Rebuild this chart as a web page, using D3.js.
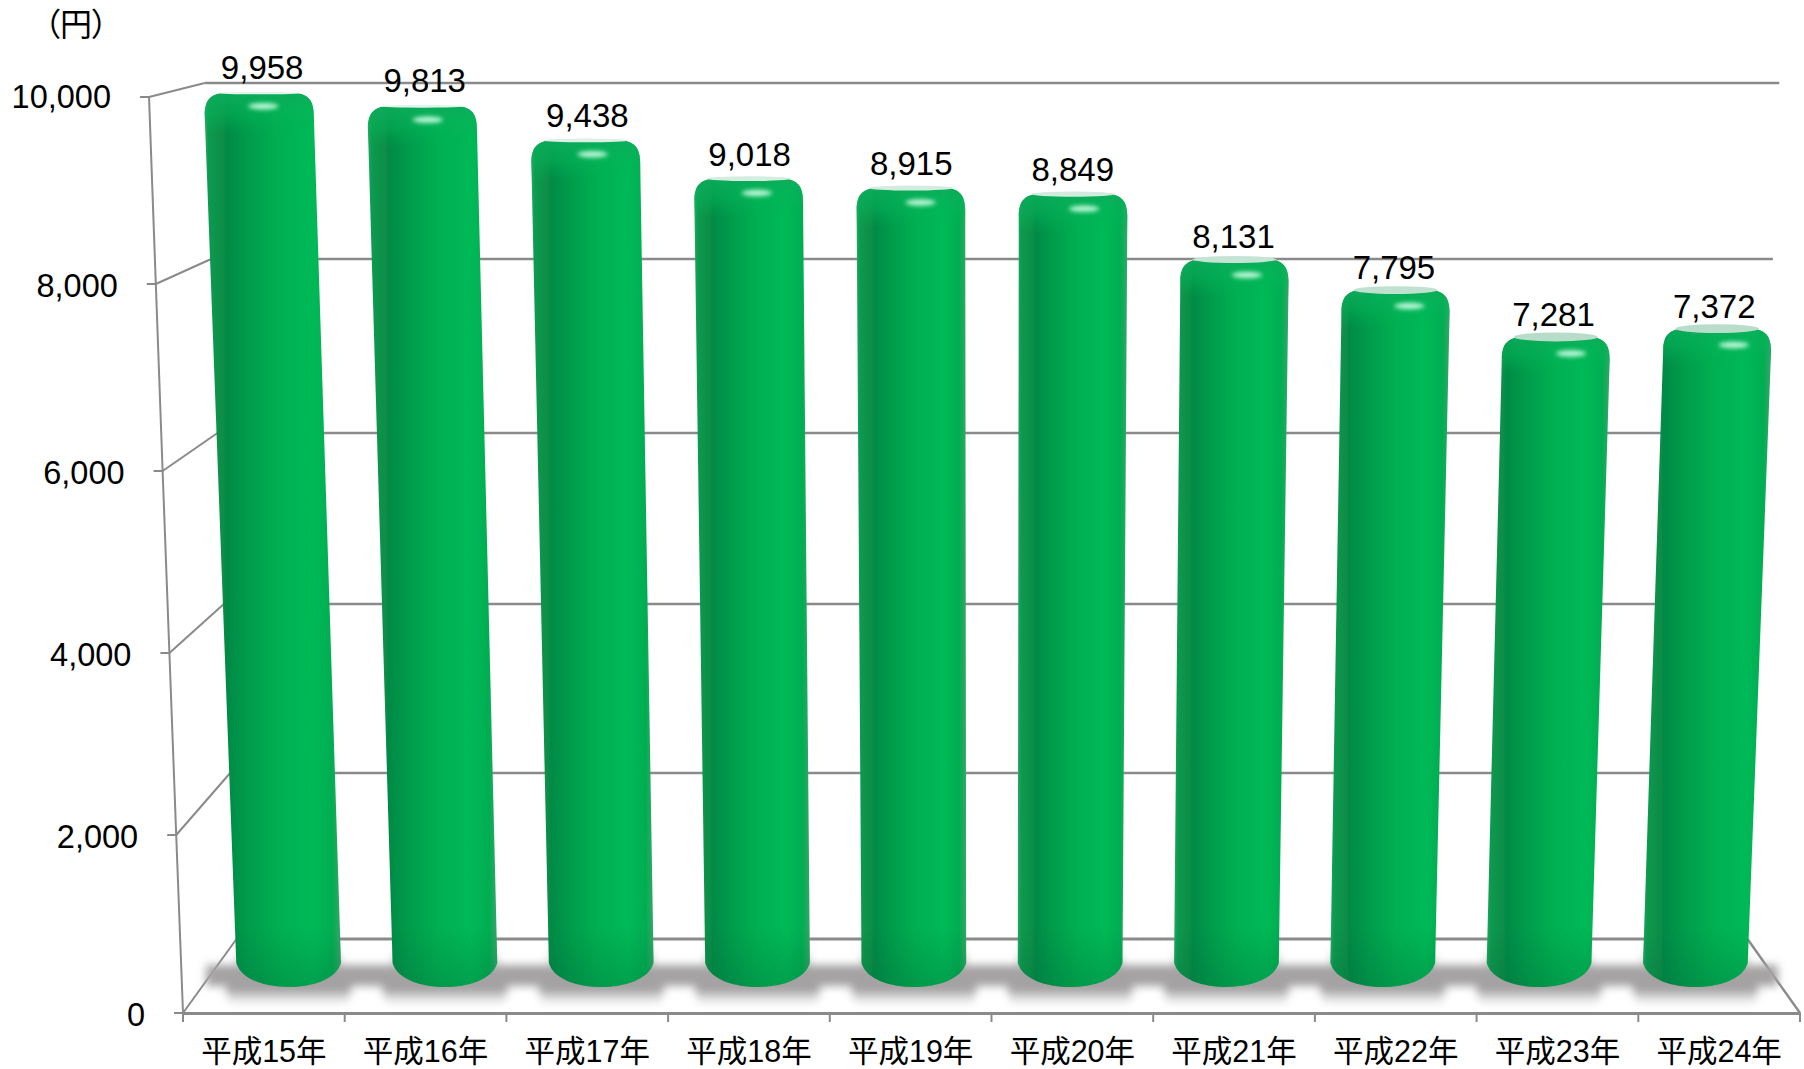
<!DOCTYPE html>
<html lang="ja">
<head>
<meta charset="utf-8">
<style>
  html, body { margin: 0; background: #fff; }
  text { font-family: "Liberation Sans", "Noto Sans CJK JP", sans-serif; fill: #000; }
</style>
</head>
<body>
<div id="chart"></div>
<script src="https://cdn.jsdelivr.net/npm/d3@7"></script>
<script>
const categories = ["平成15年", "平成16年", "平成17年", "平成18年", "平成19年", "平成20年", "平成21年", "平成22年", "平成23年", "平成24年"];
const values = [9958, 9813, 9438, 9018, 8915, 8849, 8131, 7795, 7281, 7372];
const yTicks = [0, 2000, 4000, 6000, 8000, 10000];
const unit = "（円）";

const width = 1804, height = 1069;
const grid = "#8a8a8a";

const svg = d3.select("#chart").append("svg")
  .attr("width", width)
  .attr("height", height)
  .style("display", "block");

// perspective: everything spreads out from the middle as the value goes up
const midX = 992;
const spread = d3.scaleLinear().domain([0, 10000]).range([1, 1.042]);
const persp = (x, v) => midX + (x - midX) * spread(v);

// the chart is a 3d one, so front edge, back wall and bars each get their own y scale
const yFront = d3.scaleLinear().domain(yTicks).range([1013, 835, 653, 471, 284, 97]);
const yBack = d3.scaleLinear().domain(yTicks).range([939, 773, 604, 433, 259, 83]);
const yBar = d3.scaleLinear().domain([0, 10000]).range([987, 88]);

const xFront = d3.scaleBand().domain(categories).range([183, 1800]);
const xBar = d3.scaleBand().domain(categories).range([210.5, 1773.5]).paddingInner(0.33).paddingOuter(0.165);
const xBackLeft = 236.5, xBackRight = 1747.5;

const capHeight = d3.scaleLinear().domain([7281, 9958]).range([9, 2.5]);
const capColor = d3.scaleLinear().domain([7281, 9958]).range(["#b7dcc9", "#e6f4ee"]);
const labelGap = d3.scaleLinear().domain([7281, 9958]).range([18, 25]);

const defs = svg.append("defs");

const body = defs.append("linearGradient").attr("id", "barBody");
[[0, "#2aa862"], [0.03, "#0c9a50"], [0.16, "#068a45"], [0.32, "#039c4c"], [0.55, "#00b051"],
 [0.8, "#00b956"], [0.94, "#03ad51"], [1, "#35a76c"]].forEach(s =>
  body.append("stop").attr("offset", s[0]).attr("stop-color", s[1]));

const topShade = defs.append("linearGradient").attr("id", "topShade").attr("x2", 0).attr("y2", 1);
topShade.append("stop").attr("offset", 0).attr("stop-color", "#0cab5a").attr("stop-opacity", 0.95);
topShade.append("stop").attr("offset", 0.55).attr("stop-color", "#05b45a").attr("stop-opacity", 0.5);
topShade.append("stop").attr("offset", 1).attr("stop-color", "#00b152").attr("stop-opacity", 0);

const bottomShade = defs.append("linearGradient").attr("id", "bottomShade").attr("x2", 0).attr("y2", 1);
bottomShade.append("stop").attr("offset", 0).attr("stop-color", "#04663a").attr("stop-opacity", 0);
bottomShade.append("stop").attr("offset", 1).attr("stop-color", "#04663a").attr("stop-opacity", 0.3);

const blur = (id, dev) => defs.append("filter").attr("id", id)
  .attr("x", "-50%").attr("y", "-200%").attr("width", "200%").attr("height", "500%")
  .append("feGaussianBlur").attr("stdDeviation", dev);
blur("soft", 0.7);
blur("glow", 2.2);
blur("shadowBlur", 4.5);

// floor and back wall
const wall = svg.append("g").attr("fill", "none").attr("stroke", grid);

wall.selectAll("line.back")
  .data(yTicks)
  .join("line")
  .attr("class", "back")
  .attr("x1", d => persp(xBackLeft, d))
  .attr("x2", d => persp(xBackRight, d))
  .attr("y1", d => yBack(d))
  .attr("y2", d => yBack(d))
  .attr("stroke-width", d => d === 0 ? 3 : 2.5);

wall.selectAll("line.side")
  .data(yTicks)
  .join("line")
  .attr("class", "side")
  .attr("x1", d => persp(xFront.range()[0], d))
  .attr("x2", d => persp(xBackLeft, d))
  .attr("y1", d => yFront(d))
  .attr("y2", d => yBack(d))
  .attr("stroke-width", 2);

wall.selectAll("line.stub")
  .data(yTicks)
  .join("line")
  .attr("class", "stub")
  .attr("x1", d => persp(xFront.range()[0], d) - 9)
  .attr("x2", d => persp(xFront.range()[0], d))
  .attr("y1", d => yFront(d))
  .attr("y2", d => yFront(d))
  .attr("stroke-width", 2);

wall.append("path")
  .attr("stroke-width", 2)
  .attr("d", d3.line().x(d => persp(xFront.range()[0], d)).y(d => yFront(d))(yTicks));

wall.append("line")
  .attr("x1", xFront.range()[1]).attr("y1", yFront(0))
  .attr("x2", xBackRight).attr("y2", yBack(0))
  .attr("stroke-width", 2.4);

// shadows under the bars, one pass per tone so the light ones stay underneath
const shadows = svg.append("g").attr("filter", "url(#shadowBlur)");
const shadowRect = (pad, dy, h, fill) => shadows.append("g").selectAll("rect")
  .data(categories)
  .join("rect")
  .attr("x", c => xBar(c) - pad)
  .attr("width", xBar.bandwidth() + pad * 2)
  .attr("y", yBar(0) + dy)
  .attr("height", h)
  .attr("fill", fill);
shadowRect(8, 6, 9, "#dedede");
shadowRect(0, -34, 14, "#d2d2d2");
shadowRect(30, -22, 21, "#a4a2a2");
shadowRect(10, -6, 13, "#a4a2a2");

// bars
const barPath = (c, v) => {
  const x0 = xBar(c), x1 = x0 + xBar.bandwidth();
  const yb = yBar(0), yt = yBar(v);
  const lt = persp(x0, v), rt = persp(x1, v);
  const cap = capHeight(v) / 2;
  const r = 22;
  return `M${x0},${yb - 24}`
    + `C${x0 + 5},${yb - 7} ${x0 + 30},${yb} ${(x0 + x1) / 2},${yb}`
    + `C${x1 - 30},${yb} ${x1 - 5},${yb - 7} ${x1},${yb - 24}`
    + `L${rt},${yt + cap + r}`
    + `C${rt},${yt + cap + 5} ${rt - 8},${yt + cap} ${rt - r},${yt + cap}`
    + `L${lt + r},${yt + cap}`
    + `C${lt + 8},${yt + cap} ${lt},${yt + cap + 5} ${lt},${yt + cap + r}Z`;
};

const bars = svg.append("g").selectAll("g")
  .data(categories.map((c, i) => ({ c, i, v: values[i] })))
  .join("g");

bars.append("clipPath")
  .attr("id", d => "clip" + d.i)
  .append("path")
  .attr("d", d => barPath(d.c, d.v));

bars.append("path")
  .attr("d", d => barPath(d.c, d.v))
  .attr("fill", "url(#barBody)")
  .attr("filter", "url(#soft)");

const shades = bars.append("g").attr("clip-path", d => `url(#clip${d.i})`);

shades.append("rect")
  .attr("x", d => persp(xBar(d.c), d.v) - 5)
  .attr("width", d => xBar.bandwidth() * spread(d.v) + 10)
  .attr("y", d => yBar(d.v))
  .attr("height", 42)
  .attr("fill", "url(#topShade)");

shades.append("rect")
  .attr("x", d => xBar(d.c) - 2)
  .attr("width", xBar.bandwidth() + 4)
  .attr("y", yBar(0) - 60)
  .attr("height", 60)
  .attr("fill", "url(#bottomShade)");

// lid of the cylinder
bars.append("ellipse")
  .attr("cx", d => persp(xBar(d.c) + xBar.bandwidth() / 2, d.v))
  .attr("cy", d => yBar(d.v) + capHeight(d.v) / 2)
  .attr("rx", d => xBar.bandwidth() * spread(d.v) / 2 - 12)
  .attr("ry", d => capHeight(d.v) / 2)
  .attr("fill", d => capColor(d.v))
  .attr("filter", "url(#soft)");

// little shine under the lid
bars.append("ellipse")
  .attr("cx", d => persp(xBar(d.c) + xBar.bandwidth() / 2, d.v) + 4 + d.i * 1.4)
  .attr("cy", d => yBar(d.v) + capHeight(d.v) + 12)
  .attr("rx", 15)
  .attr("ry", 3.2)
  .attr("fill", "#b8f8d6")
  .attr("filter", "url(#glow)");

// value labels
svg.append("g").selectAll("text")
  .data(categories.map((c, i) => ({ c, v: values[i] })))
  .join("text")
  .attr("x", d => midX + (xBar(d.c) + xBar.bandwidth() / 2 - midX) * spread(d.v) * 0.996)
  .attr("y", d => yBar(d.v) - labelGap(d.v))
  .attr("dy", "0.36em")
  .attr("text-anchor", "middle")
  .attr("font-size", 33)
  .text(d => d3.format(",")(d.v));

// y tick labels
svg.append("g").selectAll("text")
  .data(yTicks)
  .join("text")
  .attr("x", d => persp(xFront.range()[0], d) - 38)
  .attr("y", d => yFront(d) + (d === 10000 ? -1 : 1))
  .attr("dy", "0.36em")
  .attr("text-anchor", "end")
  .attr("font-size", 32.5)
  .text(d => d3.format(",")(d));

// x axis
const xAxis = svg.append("g")
  .attr("transform", `translate(0,${yFront(0)})`)
  .call(d3.axisBottom(xFront).tickSize(0).tickPadding(27.5));
xAxis.select(".domain").attr("stroke", grid).attr("stroke-width", 3);
xAxis.selectAll("text")
  .attr("font-size", 30.5)
  .style("font-family", '"Liberation Sans", "Noto Sans CJK JP", sans-serif');

const edges = categories.map(c => xFront(c)).concat(xFront.range()[1]);
svg.append("g").selectAll("line")
  .data(edges)
  .join("line")
  .attr("x1", d => d).attr("x2", d => d)
  .attr("y1", yFront(0)).attr("y2", yFront(0) + 9)
  .attr("stroke", grid)
  .attr("stroke-width", 2);

// unit
svg.append("text")
  .attr("x", 76)
  .attr("y", 24)
  .attr("dy", "0.36em")
  .attr("text-anchor", "middle")
  .attr("font-size", 32)
  .style("font-feature-settings", '"palt"')
  .text(unit);
</script>
</body>
</html>
